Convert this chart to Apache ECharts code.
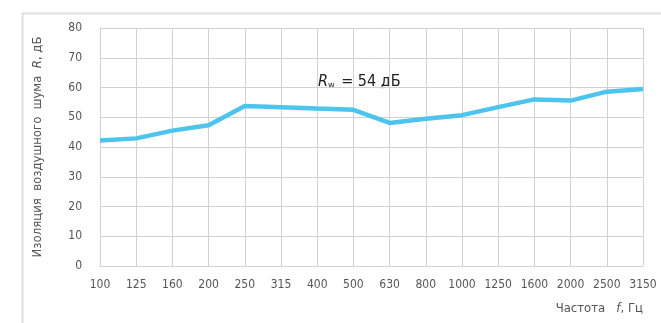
<!DOCTYPE html>
<html>
<head>
<meta charset="utf-8">
<script src="https://cdn.jsdelivr.net/npm/echarts@6/dist/echarts.min.js"></script>
<style>
  html, body { margin: 0; padding: 0; background: #fff; }
  #chart { width: 661px; height: 323px; }
</style>
</head>
<body>
<div id="chart"></div>
<script>
// частоты, Гц
const frequencies = ['100', '125', '160', '200', '250', '315', '400', '500', '630', '800', '1000', '1250', '1600', '2000', '2500', '3150'];
// изоляция R, дБ
const insulation = [42.2, 42.9, 45.5, 47.3, 53.8, 53.4, 52.9, 52.5, 48.1, 49.5, 50.7, 53.4, 56.0, 55.6, 58.6, 59.5];
const yTicks = [0, 10, 20, 30, 40, 50, 60, 70, 80];

const FONT = '"DejaVu Sans Condensed", "DejaVu Sans", sans-serif';
const TEXT = '#555';
const GRID = '#d2d2d2';

const chart = echarts.init(document.getElementById('chart'), null, { renderer: 'canvas' });

chart.setOption({
  backgroundColor: '#fff',
  animation: false,
  grid: { left: 100, right: 18, top: 28, bottom: 57 },
  xAxis: {
    type: 'category',
    data: frequencies,
    boundaryGap: false,
    axisLine: { show: true, lineStyle: { color: GRID } },
    axisTick: { show: false },
    axisLabel: { color: TEXT, fontFamily: FONT, fontSize: 12, margin: 13, interval: 0 },
    splitLine: { show: true, lineStyle: { color: GRID, width: 1 } },
  },
  yAxis: {
    type: 'value',
    min: yTicks[0],
    max: yTicks[yTicks.length - 1],
    interval: 10,
    axisLine: { show: true, lineStyle: { color: GRID } },
    axisTick: { show: false },
    axisLabel: { color: TEXT, fontFamily: FONT, fontSize: 12, margin: 18 },
    splitLine: { show: true, lineStyle: { color: GRID, width: 1 } },
    name: '{t|Изоляция  воздушного  шума  }{i|R}{t|, дБ}',
    nameLocation: 'middle',
    nameGap: 56,
    nameRotate: 90,
    nameTextStyle: {
      rich: {
        t: { color: TEXT, fontFamily: FONT, fontSize: 13 },
        i: { color: TEXT, fontFamily: FONT, fontSize: 13, fontStyle: 'italic' },
      },
    },
  },
  graphic: [
    {
      type: 'rect',
      left: 20, top: 11,
      shape: { width: 700, height: 400 },
      style: { fill: 'none', stroke: '#e0e0e0', lineWidth: 2 },
      silent: true,
    },
    {
      type: 'text',
      right: 18, top: 302,
      style: {
        text: '{t|Частота   }{i|f}{t|, Гц}',
        rich: {
          t: { fill: TEXT, fontFamily: FONT, fontSize: 13 },
          i: { fill: TEXT, fontFamily: FONT, fontSize: 13, fontStyle: 'italic' },
        },
      },
    },
    {
      type: 'text',
      left: 318, top: 74,
      style: {
        text: '{r|R}{w|w}{t| = 54 дБ}',
        rich: {
          r: { fill: '#222', fontFamily: FONT, fontSize: 16, fontStyle: 'italic' },
          w: { fill: '#222', fontFamily: FONT, fontSize: 9, verticalAlign: 'bottom', padding: [8, 2, 0, 0] },
          t: { fill: '#222', fontFamily: FONT, fontSize: 16 },
        },
      },
    },
  ],
  series: [{
    type: 'line',
    data: insulation,
    symbol: 'none',
    lineStyle: { color: '#4cc4ee', width: 4.5 },
  }],
});
</script>
</body>
</html>
